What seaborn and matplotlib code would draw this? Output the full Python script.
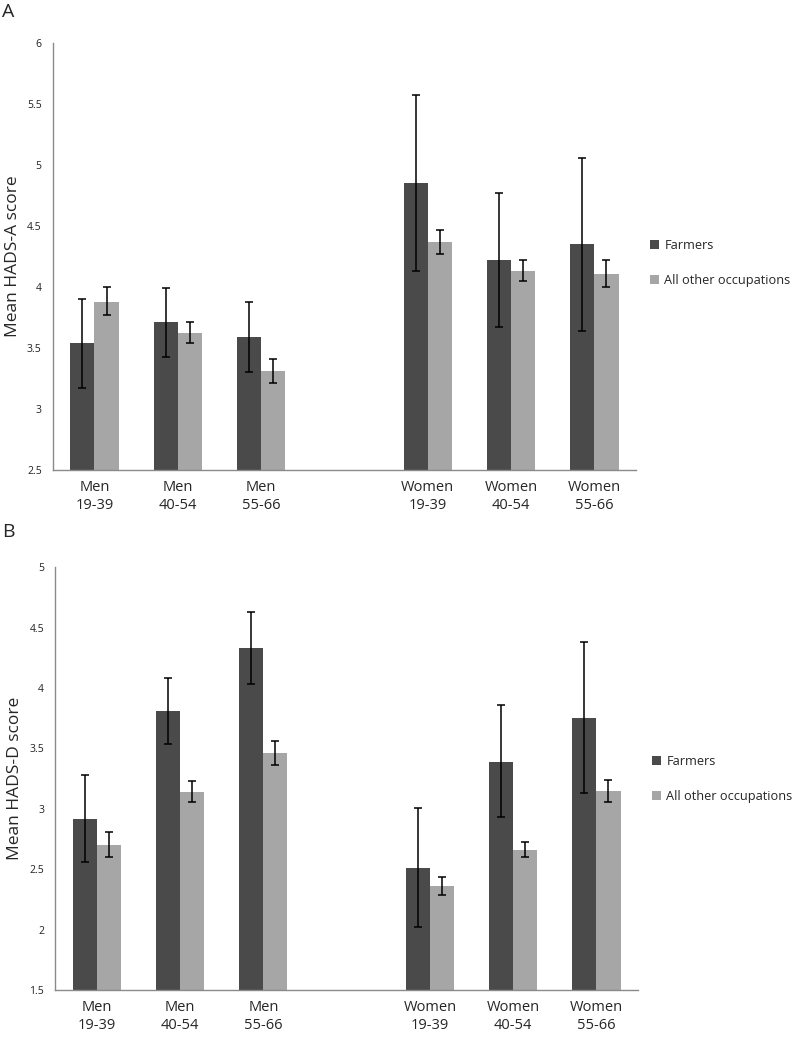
import numpy as np
import pandas as pd
import seaborn as sns
import matplotlib.pyplot as plt

# categories (blank slot separates men and women)
groups = ['Men\n19-39', 'Men\n40-54', 'Men\n55-66', ' ', 'Women\n19-39', 'Women\n40-54', 'Women\n55-66']
present = ['Men\n19-39', 'Men\n40-54', 'Men\n55-66', 'Women\n19-39', 'Women\n40-54', 'Women\n55-66']
occupations = ['Farmers', 'All other occupations']

# panel A: HADS-A
a_farm = [3.54, 3.71, 3.59, 4.85, 4.22, 4.35]
a_farm_lo = [3.17, 3.43, 3.30, 4.13, 3.67, 3.64]
a_farm_hi = [3.90, 3.99, 3.88, 5.57, 4.77, 5.06]
a_other = [3.88, 3.62, 3.31, 4.37, 4.13, 4.11]
a_other_lo = [3.77, 3.54, 3.21, 4.27, 4.05, 4.00]
a_other_hi = [4.00, 3.71, 3.41, 4.47, 4.22, 4.22]

# panel B: HADS-D
b_farm = [2.92, 3.81, 4.33, 2.51, 3.39, 3.75]
b_farm_lo = [2.56, 3.54, 4.03, 2.02, 2.93, 3.13]
b_farm_hi = [3.28, 4.08, 4.63, 3.01, 3.86, 4.38]
b_other = [2.70, 3.14, 3.46, 2.36, 2.66, 3.15]
b_other_lo = [2.60, 3.06, 3.36, 2.29, 2.60, 3.06]
b_other_hi = [2.81, 3.23, 3.56, 2.44, 2.73, 3.24]

palette = {'Farmers': '#4a4a4a', 'All other occupations': '#a6a6a6'}

sns.set_style('white')
plt.rcParams['font.family'] = ['Open Sans', 'DejaVu Sans']

fig = plt.figure(figsize=(8, 10.37), dpi=100)
ax_a = fig.add_axes([0.066, 0.5468, 0.729, 0.4117])
ax_b = fig.add_axes([0.069, 0.045, 0.7285, 0.4082])


def panel(ax, farm, flo, fhi, other, olo, ohi, ylim, ylabel, leg_y):
    df = pd.DataFrame({
        'group': present * 2,
        'occ': ['Farmers'] * 6 + ['All other occupations'] * 6,
        'score': farm + other,
        'lo': flo + olo,
        'hi': fhi + ohi,
    })
    sns.barplot(data=df, x='group', y='score', hue='occ', order=groups,
                hue_order=occupations, palette=palette, width=0.58,
                errorbar=None, saturation=1, linewidth=0, ax=ax)
    # asymmetric error bars at bar centres
    for cont, occ in zip(ax.containers, occupations):
        sub = df[df.occ == occ].set_index('group').loc[present]
        bars = sorted(cont, key=lambda b: b.get_x())
        xs = [b.get_x() + b.get_width() / 2 for b in bars]
        ax.errorbar(xs, sub.score, yerr=[sub.score - sub.lo, sub.hi - sub.score],
                    fmt='none', ecolor='black', elinewidth=1.1, capsize=3, capthick=1.1)
    ax.set_ylim(*ylim)
    ticks = np.arange(ylim[0], ylim[1] + 0.01, 0.5)
    ax.set_yticks(ticks)
    ax.set_yticklabels(['%g' % t for t in ticks], fontsize=7.5, color='#222222')
    ax.set_xlim(-0.5, len(groups) - 0.5)
    ax.tick_params(axis='x', length=0, labelsize=10.5, pad=7)
    for lab in ax.get_xticklabels():
        lab.set_linespacing(1.3)
    ax.tick_params(axis='y', length=0, pad=8)
    ax.set_xlabel('')
    ax.set_ylabel(ylabel, fontsize=12.5)
    ax.yaxis.set_label_coords(-0.055, 0.5)
    for s in ['top', 'right']:
        ax.spines[s].set_visible(False)
    for s in ['left', 'bottom']:
        ax.spines[s].set_color('#8a8a8a')
        ax.spines[s].set_linewidth(1)
    ax.legend(loc='center left', bbox_to_anchor=(1.005, leg_y), frameon=False,
              fontsize=9.2, handlelength=0.7, handleheight=0.7, handletextpad=0.4,
              labelspacing=1.7)


panel(ax_a, a_farm, a_farm_lo, a_farm_hi, a_other, a_other_lo, a_other_hi,
      (2.5, 6), 'Mean HADS-A score', 0.485)
panel(ax_b, b_farm, b_farm_lo, b_farm_hi, b_other, b_other_lo, b_other_hi,
      (1.5, 5), 'Mean HADS-D score', 0.5)

fig.text(0.003, 0.988, 'A', fontsize=14, va='center')
fig.text(0.003, 0.487, 'B', fontsize=14, va='center')

fig.savefig('out.png', dpi=100, facecolor='white')
